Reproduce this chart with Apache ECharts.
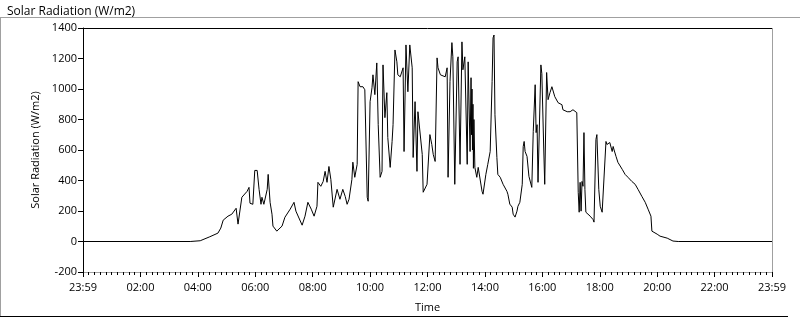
<!DOCTYPE html>
<html>
<head>
<meta charset="utf-8">
<script src="https://cdn.jsdelivr.net/npm/echarts@6/dist/echarts.min.js"></script>
<style>
html,body{margin:0;padding:0;background:#fff;}
#chart{width:800px;height:318px;}
</style>
</head>
<body>
<div id="chart"></div>
<script>
// Time of day in minutes since midnight
const timeMinutes = [0,224,245,265,282,288,293,303,311,320,324,328,332,343,347,349,355,359,364,368,372,374,378,385,387,391,395,397,405,416,422,433,441,445,449,458,464,470,477,483,489,491,497,502,506,510,514,518,523,531,537,543,548,552,556,562,564,568,573,575,579,585,589,594,596,600,604,606,610,614,617,621,625,627,631,635,637,642,646,648,652,656,658,663,667,669,671,675,679,683,688,690,694,698,700,704,709,711,719,725,729,732,736,740,742,747,757,761,763,767,771,773,777,782,784,788,792,794,798,803,805,809,811,812,813,814,815,816,817,819,823,826,834,836,842,846,851,855,857,859,861,865,867,872,878,886,888,892,897,899,903,907,909,913,918,920,922,924,928,932,936,938,941,945,947,949,951,957,959,963,965,969,972,976,980,986,993,1001,1003,1012,1018,1024,1028,1032,1035,1037,1039,1041,1043,1045,1047,1049,1051,1055,1060,1066,1068,1072,1074,1078,1081,1085,1089,1093,1095,1101,1106,1108,1110,1114,1118,1127,1133,1139,1147,1154,1160,1168,1175,1181,1187,1189,1191,1200,1206,1221,1233,1244,1440];
// Solar radiation (W/m2)
const radiation = [0,0,5,31,55,88,140,166,179,218,114,127,290,329,355,251,244,466,466,342,244,290,244,342,440,257,179,101,68,101,159,212,257,199,199,107,166,257,212,166,231,388,362,394,460,388,492,407,225,342,277,342,296,244,277,407,520,421,506,1048,1015,1015,995,290,264,917,1008,1093,963,1171,766,421,460,1158,812,976,682,486,656,766,1256,1178,1093,1080,1093,1139,590,1289,982,1289,1139,551,917,460,851,864,571,323,375,701,636,571,525,1204,1139,1093,1080,1139,421,1048,1304,1211,375,1178,1211,506,1309,1126,1211,506,1178,590,1074,700,1000,600,900,480,800,486,421,486,329,310,440,506,590,1048,1335,1354,831,551,440,421,375,329,310,245,225,179,160,199,231,257,375,622,656,590,558,427,421,355,720,1028,714,766,388,1158,1100,600,375,1108,930,976,1015,950,910,897,864,851,851,864,864,845,323,192,388,199,394,362,714,342,192,179,166,144,127,669,701,342,231,192,192,656,636,649,590,623,600,558,519,473,440,421,394,375,342,296,257,212,166,68,61,48,35,22,3,0,0];
const xTickLabels = ["23:59","02:00","04:00","06:00","08:00","10:00","12:00","14:00","16:00","18:00","20:00","22:00","23:59"];
const yTicks = [-200,0,200,400,600,800,1000,1200,1400];

const chart = echarts.init(document.getElementById('chart'), null, {renderer:'canvas'});
const FONT = 'Open Sans';
const data = timeMinutes.map((t,i)=>[t, radiation[i]]);
chart.setOption({
  animation:false,
  backgroundColor:'#fff',
  title:{text:'Solar Radiation (W/m2)', left:2, top:1,
    textStyle:{fontFamily:FONT,fontSize:12,fontWeight:'normal',color:'#000'}},
  grid:{left:83,right:28,top:28,bottom:45,show:false},
  xAxis:{type:'value',min:0,max:1440,interval:120,
    name:'Time',nameLocation:'middle',nameGap:30,
    nameTextStyle:{fontFamily:FONT,fontSize:11,color:'#000'},
    axisLine:{show:true,onZero:false,lineStyle:{color:'#a0a0a0',width:1}},
    axisTick:{show:true,length:5,lineStyle:{color:'#000'}},
    minorTick:{show:true,splitNumber:10,length:3,lineStyle:{color:'#000'}},
    splitLine:{show:false},
    axisLabel:{fontFamily:FONT,fontSize:11,color:'#000',margin:10,
      formatter:v=>xTickLabels[Math.round(v/120)]}},
  yAxis:{type:'value',min:yTicks[0],max:yTicks[yTicks.length-1],interval:200,
    name:'Solar Radiation (W/m2)',nameLocation:'middle',nameGap:35,
    nameTextStyle:{fontFamily:FONT,fontSize:11,color:'#000'},
    axisLine:{show:true,onZero:false,lineStyle:{color:'#000',width:1}},
    axisTick:{show:true,length:5,lineStyle:{color:'#000'}},
    splitLine:{show:false},
    axisLabel:{fontFamily:FONT,fontSize:11,color:'#000',margin:6,
      formatter:v=>String(v)}},
  graphic:[
    {type:'line',shape:{x1:0,y1:17.5,x2:800,y2:17.5},style:{stroke:'#a0a0a0',lineWidth:1},silent:true},
    {type:'line',shape:{x1:0.5,y1:17,x2:0.5,y2:317},style:{stroke:'#a0a0a0',lineWidth:1},silent:true},
    {type:'line',shape:{x1:0,y1:316.5,x2:788,y2:316.5},style:{stroke:'#000',lineWidth:1},silent:true},
    {type:'line',shape:{x1:83,y1:28.5,x2:772,y2:28.5},style:{stroke:'#000',lineWidth:1},silent:true},
    {type:'line',shape:{x1:772.5,y1:28,x2:772.5,y2:273},style:{stroke:'#a0a0a0',lineWidth:1},silent:true}
  ],
  series:[{type:'line',data:data,showSymbol:false,symbol:'none',
    lineStyle:{color:'#000',width:1},itemStyle:{color:'#000'},clip:true}]
});
</script>
</body>
</html>
